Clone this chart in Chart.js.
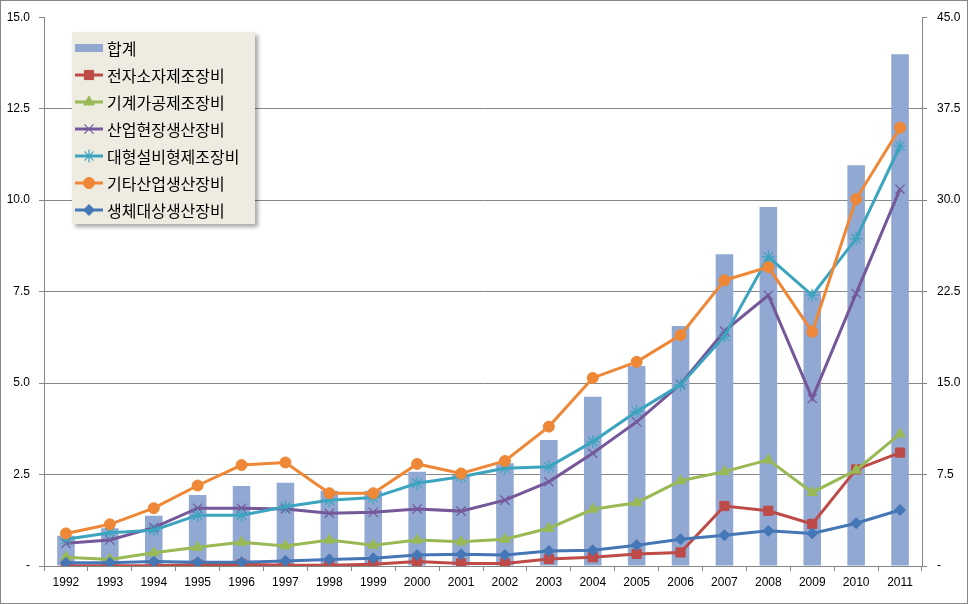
<!DOCTYPE html>
<html>
<head>
<meta charset="utf-8">
<script src="https://cdn.jsdelivr.net/npm/chart.js@4"></script>
<style>
  html, body { margin: 0; padding: 0; background: #fff; }
  #wrap { width: 968px; height: 604px; }
</style>
</head>
<body>
<div id="wrap"><canvas id="chart" width="968" height="604"></canvas></div>
<script>
// 연도별 장비 생산 (좌: 품목별, 우: 합계)
const years = ['1992','1993','1994','1995','1996','1997','1998','1999','2000','2001',
               '2002','2003','2004','2005','2006','2007','2008','2009','2010','2011'];

const total    = [2.48, 3.09, 4.12, 5.82, 6.56, 6.83, 6.17, 6.17, 7.73, 7.46, 8.42, 10.33, 13.88, 16.39, 19.67, 25.57, 29.43, 22.48, 32.87, 41.97];
const jeonja   = [0.01, 0.01, 0.01, 0.04, 0.05, 0.02, 0.02, 0.05, 0.12, 0.07, 0.07, 0.19, 0.24, 0.33, 0.37, 1.64, 1.51, 1.15, 2.64, 3.10];
const gigye    = [0.24, 0.18, 0.36, 0.51, 0.65, 0.55, 0.71, 0.57, 0.71, 0.66, 0.73, 1.03, 1.55, 1.73, 2.33, 2.58, 2.90, 2.01, 2.62, 3.61];
const saneop   = [0.62, 0.71, 1.05, 1.58, 1.58, 1.56, 1.44, 1.47, 1.56, 1.50, 1.80, 2.30, 3.08, 3.94, 4.97, 6.42, 7.40, 4.58, 7.45, 10.30];
const daehyung = [0.73, 0.91, 0.98, 1.39, 1.39, 1.62, 1.80, 1.87, 2.26, 2.44, 2.67, 2.71, 3.40, 4.22, 4.95, 6.28, 8.45, 7.40, 8.95, 11.48];
const gita     = [0.89, 1.14, 1.58, 2.20, 2.76, 2.83, 1.99, 1.99, 2.79, 2.53, 2.87, 3.81, 5.14, 5.58, 6.31, 7.81, 8.17, 6.40, 10.03, 11.98];
const saengche = [0.09, 0.09, 0.12, 0.10, 0.10, 0.14, 0.18, 0.21, 0.30, 0.32, 0.30, 0.41, 0.43, 0.57, 0.73, 0.84, 0.96, 0.89, 1.17, 1.53];

const leftTicks  = [0, 2.5, 5, 7.5, 10, 12.5, 15];
const rightTicks = [0, 7.5, 15, 22.5, 30, 37.5, 45];

const GRID = '#868686';
const FONT = 'Liberation Sans, Arial, sans-serif';

function lineSet(label, data, color, style, radius, order) {
    return {
        type: 'line',
        label: label,
        data: data,
        yAxisID: 'y',
        borderColor: color,
        backgroundColor: color,
        borderWidth: 3,
        pointStyle: style,
        pointRadius: radius,
        pointBorderColor: color,
        pointBackgroundColor: color,
        pointBorderWidth: (style === 'crossRot' || style === 'star') ? 1.2 : 1,
        tension: 0,
        order: order
    };
}

const datasets = [
    {
        type: 'bar',
        label: '합계',
        data: total,
        yAxisID: 'y1',
        backgroundColor: '#91A8D2',
        borderWidth: 0,
        barPercentage: 0.4,
        categoryPercentage: 1.0,
        order: 10
    },
    lineSet('전자소자제조장비', jeonja, '#BE4B48', 'rect', 6.5, 6),
    lineSet('기계가공제조장비', gigye, '#98B954', 'triangle', 6, 5),
    lineSet('산업현장생산장비', saneop, '#74589A', 'crossRot', 6.5, 4),
    lineSet('대형설비형제조장비', daehyung, '#3CA4BF', 'star', 6.5, 3),
    lineSet('기타산업생산장비', gita, '#EE8736', 'circle', 5.5, 2),
    lineSet('생체대상생산장비', saengche, '#4577B6', 'rectRot', 5.5, 1)
];

// 배경 + 외곽 테두리
const framePlugin = {
    id: 'frame',
    beforeDraw(chart) {
        const ctx = chart.ctx;
        ctx.save();
        ctx.fillStyle = '#ffffff';
        ctx.fillRect(0, 0, chart.width, chart.height);
        ctx.strokeStyle = GRID;
        ctx.lineWidth = 1;
        ctx.strokeRect(0.5, 0.5, chart.width - 1, chart.height - 1);
        ctx.restore();
    }
};

// 차트 안쪽 범례 (엑셀 스타일)
const legendPlugin = {
    id: 'boxLegend',
    afterDraw(chart) {
        const ctx = chart.ctx;
        const bx = 72, by = 32, bw = 183, bh = 192;
        ctx.save();
        ctx.shadowColor = 'rgba(0,0,0,0.35)';
        ctx.shadowBlur = 4;
        ctx.shadowOffsetX = 3;
        ctx.shadowOffsetY = 3;
        ctx.fillStyle = '#EEECE1';
        ctx.fillRect(bx, by, bw, bh);
        ctx.restore();

        ctx.save();
        ctx.font = '16px "Noto Sans CJK KR", sans-serif';
        ctx.textBaseline = 'middle';
        chart.data.datasets.forEach((ds, i) => {
            const cy = by + 16 + i * 27;
            const x0 = bx + 3, x1 = bx + 31;
            if (ds.type === 'bar') {
                ctx.fillStyle = ds.backgroundColor;
                ctx.fillRect(x0, cy - 4, x1 - x0, 8);
            } else {
                ctx.strokeStyle = ds.borderColor;
                ctx.lineWidth = 3;
                ctx.beginPath();
                ctx.moveTo(x0, cy);
                ctx.lineTo(x1, cy);
                ctx.stroke();
                ctx.fillStyle = ds.pointBackgroundColor;
                ctx.lineWidth = ds.pointBorderWidth;
                if (Chart.helpers && Chart.helpers.drawPoint) {
                    Chart.helpers.drawPoint(ctx, {
                        pointStyle: ds.pointStyle,
                        radius: ds.pointRadius,
                        rotation: 0,
                        borderWidth: ds.pointBorderWidth
                    }, (x0 + x1) / 2, cy);
                }
            }
            ctx.fillStyle = '#000';
            ctx.fillText(ds.label, bx + 35, cy + 1);
        });
        ctx.restore();
    }
};

new Chart(document.getElementById('chart'), {
    data: { labels: years, datasets: datasets },
    options: {
        responsive: false,
        animation: false,
        layout: { padding: { top: 17, left: 0, right: 0, bottom: 0 } },
        plugins: {
            legend: { display: false },
            tooltip: { enabled: false }
        },
        scales: {
            x: {
                offset: true,
                grid: { offset: true, drawOnChartArea: false, drawTicks: true, tickLength: 5, color: GRID },
                border: { color: GRID, width: 1 },
                ticks: { color: '#000', font: { family: FONT, size: 12 }, padding: 4, maxRotation: 0, autoSkip: false },
                afterFit: s => { s.height = 38; }
            },
            y: {
                position: 'left',
                min: 0, max: 15,
                afterBuildTicks: s => { s.ticks = leftTicks.map(v => ({ value: v })); },
                grid: {
                    color: c => (c.tick && c.tick.value === 15) ? 'rgba(0,0,0,0)' : GRID,
                    tickColor: GRID,
                    tickLength: 5
                },
                border: { color: GRID, width: 1 },
                ticks: {
                    color: '#000',
                    font: { family: FONT, size: 12 },
                    padding: 9,
                    callback: v => v === 0 ? '-' : v.toFixed(1)
                },
                afterFit: s => { s.width = 44; }
            },
            y1: {
                position: 'right',
                min: 0, max: 45,
                afterBuildTicks: s => { s.ticks = rightTicks.map(v => ({ value: v })); },
                grid: { drawOnChartArea: false, color: GRID, tickLength: 5 },
                border: { color: GRID, width: 1 },
                ticks: {
                    color: '#000',
                    font: { family: FONT, size: 12 },
                    padding: 10,
                    callback: v => v === 0 ? '-' : v.toFixed(1)
                },
                afterFit: s => { s.width = 46; }
            }
        }
    },
    plugins: [framePlugin, legendPlugin]
});
</script>
</body>
</html>
